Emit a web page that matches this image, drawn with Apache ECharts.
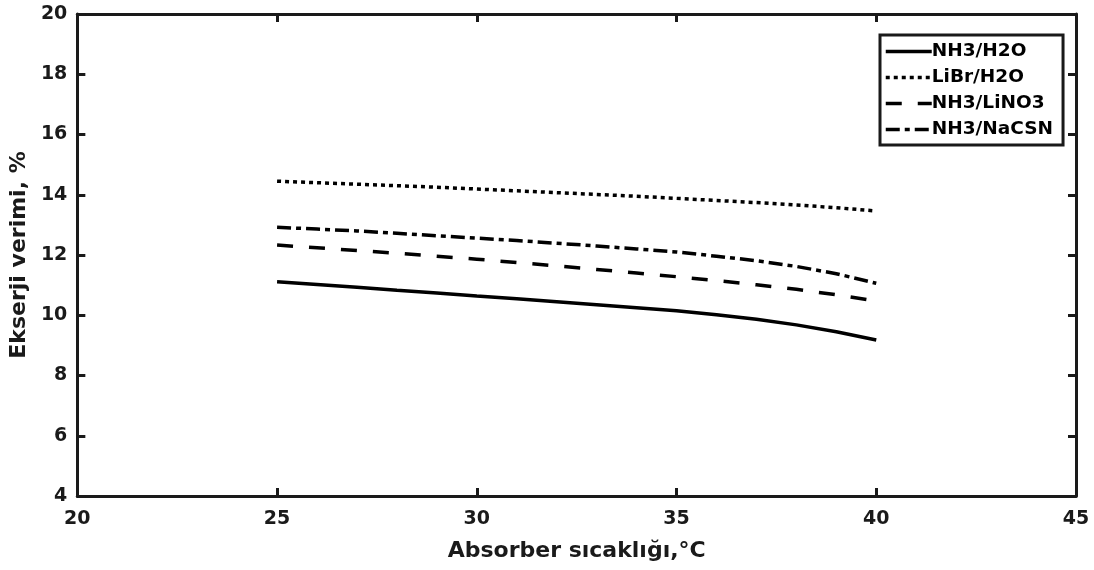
<!DOCTYPE html>
<html>
<head>
<meta charset="utf-8">
<script src="https://cdn.jsdelivr.net/npm/echarts@6/dist/echarts.min.js"></script>
<style>
  html, body { margin: 0; padding: 0; background: #fff; }
  #chart { width: 1094px; height: 570px; }
</style>
</head>
<body>
<div id="chart"></div>
<script>
// Absorber temperature, °C
const temps = [25, 26, 27, 28, 29, 30, 31, 32, 33, 34, 35, 36, 37, 38, 39, 40];

// Exergy efficiency (%) for each working pair
const nh3H2o   = [11.11, 11.02, 10.93, 10.83, 10.74, 10.64, 10.55, 10.45, 10.35, 10.25, 10.15, 10.02, 9.87, 9.68, 9.45, 9.18];
const librH2o  = [14.45, 14.40, 14.35, 14.30, 14.25, 14.19, 14.13, 14.07, 14.01, 13.95, 13.88, 13.81, 13.74, 13.66, 13.57, 13.46];
const nh3Lino3 = [12.33, 12.24, 12.15, 12.06, 11.96, 11.86, 11.75, 11.64, 11.52, 11.40, 11.28, 11.15, 11.01, 10.86, 10.68, 10.47];
const nh3Nacsn = [12.92, 12.86, 12.80, 12.72, 12.64, 12.56, 12.48, 12.39, 12.30, 12.20, 12.10, 11.96, 11.81, 11.62, 11.38, 11.06];

const seriesNames = ['NH3/H2O', 'LiBr/H2O', 'NH3/LiNO3', 'NH3/NaCSN'];
const xTicks = { min: 20, max: 45, step: 5 };
const yTicks = { min: 4, max: 20, step: 2 };

const FONT = 'DejaVu Sans';
const INK = '#1a1a1a';

function pairs(values) {
  return temps.map((t, i) => [t, values[i]]);
}

const lineTypes = ['solid', [4, 4], [16, 16], [14, 5, 5, 5]];
const dataSets = [nh3H2o, librH2o, nh3Lino3, nh3Nacsn];

const chart = echarts.init(document.getElementById('chart'), null, { renderer: 'canvas' });

const axisLine = { show: true, lineStyle: { color: INK, width: 3 } };
const tickIn = { show: true, inside: true, length: 8, lineStyle: { color: INK, width: 3 } };
const tickLabel = { color: INK, fontFamily: FONT, fontWeight: 'bold', fontSize: 19 };

chart.setOption({
  animation: false,
  backgroundColor: '#fff',
  grid: { left: 76, right: 18, top: 14, bottom: 74, containLabel: false },
  legend: {
    orient: 'vertical',
    left: 880,
    top: 35,
    padding: [7, 10, 6, 4],
    itemGap: 7,
    itemWidth: 46,
    itemHeight: 18,
    borderColor: INK,
    borderWidth: 3,
    backgroundColor: '#fff',
    itemStyle: { opacity: 0 },
    lineStyle: { width: 3.5, color: '#000' },
    textStyle: { color: '#000', fontFamily: FONT, fontWeight: 'bold', fontSize: 18.5, padding: [0, 0, 0, -5] },
    data: seriesNames
  },
  xAxis: [
    {
      type: 'value', position: 'bottom',
      min: xTicks.min, max: xTicks.max, interval: xTicks.step,
      name: 'Absorber sıcaklığı,°C',
      nameLocation: 'middle', nameGap: 44,
      nameTextStyle: { color: INK, fontFamily: FONT, fontWeight: 'bold', fontSize: 22 },
      axisLine: axisLine, axisTick: tickIn,
      axisLabel: Object.assign({ margin: 14 }, tickLabel),
      splitLine: { show: false }
    },
    {
      type: 'value', position: 'top',
      min: xTicks.min, max: xTicks.max, interval: xTicks.step,
      axisLine: axisLine, axisTick: tickIn,
      axisLabel: { show: false }, splitLine: { show: false }
    }
  ],
  yAxis: [
    {
      type: 'value', position: 'left',
      min: yTicks.min, max: yTicks.max, interval: yTicks.step,
      name: 'Ekserji verimi, %',
      nameLocation: 'middle', nameGap: 46, nameRotate: 90,
      nameTextStyle: { color: INK, fontFamily: FONT, fontWeight: 'bold', fontSize: 22 },
      axisLine: axisLine, axisTick: tickIn,
      axisLabel: Object.assign({ margin: 10 }, tickLabel),
      splitLine: { show: false }
    },
    {
      type: 'value', position: 'right',
      min: yTicks.min, max: yTicks.max, interval: yTicks.step,
      axisLine: axisLine, axisTick: tickIn,
      axisLabel: { show: false }, splitLine: { show: false }
    }
  ],
  series: seriesNames.map((name, i) => ({
    name: name,
    type: 'line',
    xAxisIndex: 0,
    yAxisIndex: 0,
    data: pairs(dataSets[i]),
    symbol: 'none',
    smooth: false,
    color: '#000',
    lineStyle: { color: '#000', width: 3.5, type: lineTypes[i], cap: 'butt' }
  }))
});
</script>
</body>
</html>
